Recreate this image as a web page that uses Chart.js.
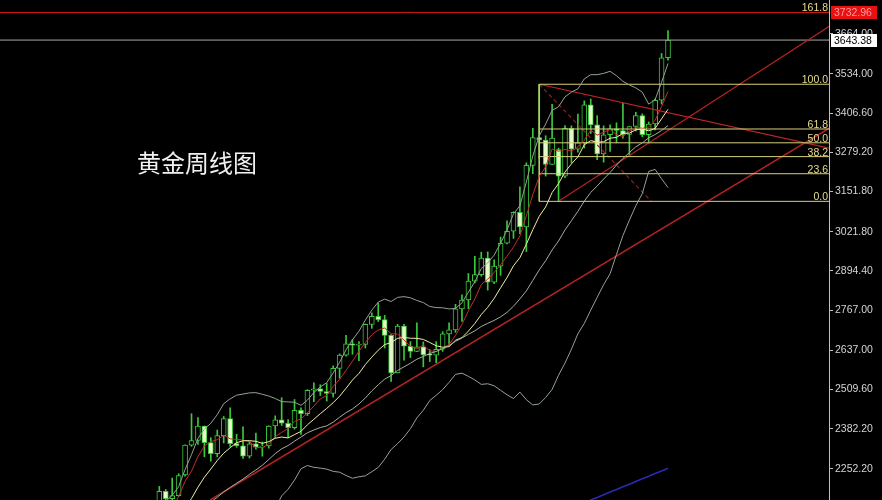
<!DOCTYPE html>
<html>
<head>
<meta charset="utf-8">
<script src="https://cdn.jsdelivr.net/npm/chart.js@4.4.1/dist/chart.umd.min.js"></script>
<style>
    html, body { margin: 0; padding: 0; background: #000; }
    #wrap { width: 882px; height: 500px; }
</style>
</head>
<body>
<div id="wrap"><canvas id="myChart" width="882" height="500"></canvas></div>
<script>
// weekly XAUUSD, week of 2024-03-04 .. 2025-09-08
const weekOpen = [2083, 2179, 2155, 2165, 2232, 2329, 2344, 2391, 2337, 2301,
    2360, 2415, 2334, 2327, 2293, 2333, 2322, 2326, 2391, 2411,
    2400, 2386, 2442, 2431, 2507, 2512, 2503, 2497, 2578, 2621,
    2658, 2653, 2656, 2721, 2747, 2736, 2685, 2563, 2715, 2650,
    2633, 2648, 2622, 2621, 2640, 2690, 2703, 2771, 2800, 2861,
    2882, 2936, 2858, 2910, 2984, 3023, 3084, 3037, 3237, 3327,
    3319, 3240, 3288, 3202, 3357, 3289, 3310, 3433, 3368, 3274,
    3336, 3355, 3350, 3337, 3363, 3398, 3336, 3371, 3448, 3586];
const weekHigh = [2195, 2185, 2222, 2236, 2330, 2431, 2418, 2391, 2353, 2378,
    2422, 2450, 2364, 2388, 2342, 2368, 2339, 2392, 2424, 2483,
    2412, 2477, 2450, 2509, 2531, 2525, 2529, 2586, 2625, 2685,
    2672, 2665, 2722, 2758, 2790, 2750, 2688, 2721, 2721, 2665,
    2726, 2664, 2639, 2665, 2697, 2726, 2786, 2817, 2886, 2942,
    2955, 2956, 2930, 3004, 3057, 3086, 3167, 3245, 3357, 3500,
    3333, 3435, 3293, 3366, 3365, 3403, 3446, 3452, 3398, 3365,
    3368, 3375, 3438, 3363, 3409, 3404, 3378, 3453, 3600, 3674];
const weekLow = [2079, 2146, 2146, 2163, 2228, 2325, 2331, 2291, 2277, 2291,
    2336, 2325, 2322, 2286, 2287, 2316, 2293, 2319, 2353, 2393,
    2353, 2381, 2364, 2425, 2470, 2490, 2472, 2485, 2546, 2618,
    2624, 2603, 2644, 2708, 2730, 2644, 2536, 2563, 2605, 2613,
    2632, 2583, 2600, 2596, 2633, 2656, 2695, 2730, 2772, 2855,
    2877, 2832, 2853, 2880, 2982, 3000, 3015, 2957, 3210, 3260,
    3202, 3240, 3120, 3197, 3245, 3280, 3293, 3340, 3255, 3247,
    3282, 3310, 3325, 3268, 3348, 3330, 3311, 3352, 3436, 3578];
const weekClose = [2179, 2155, 2165, 2230, 2329, 2344, 2391, 2337, 2301, 2360,
    2415, 2334, 2327, 2293, 2333, 2322, 2326, 2391, 2411, 2400,
    2386, 2442, 2431, 2507, 2512, 2503, 2497, 2578, 2621, 2658,
    2653, 2656, 2721, 2747, 2736, 2685, 2563, 2715, 2650, 2633,
    2648, 2622, 2621, 2640, 2690, 2703, 2771, 2800, 2861, 2882,
    2936, 2858, 2910, 2984, 3023, 3084, 3037, 3237, 3327, 3319,
    3240, 3325, 3202, 3357, 3289, 3310, 3433, 3368, 3274, 3336,
    3355, 3350, 3337, 3363, 3398, 3336, 3371, 3448, 3586, 3643.38];
// closes before the first visible week (only feed the averages)
const priorClose = [1833, 1933, 1981, 2006, 1993, 1940, 1981, 2002, 2072, 2004,
    2019, 2053, 2063, 2049, 2049, 2029, 2018, 2039, 2024, 2013, 2035, 2083];
// long blue average, only its end is on screen (weeks 65..79)
const longMaStart = 65;
const longMa = [2134, 2142, 2151, 2159, 2168, 2177, 2185, 2194, 2202, 2211, 2220, 2228, 2237, 2245, 2254];

const priceTicks = [3664.00, 3534.00, 3406.60, 3279.20, 3151.80, 3021.80, 2894.40, 2767.00, 2637.00, 2509.60, 2382.20, 2252.20];

const fibStartWeek = 59;
const fibHigh = 3500;
const fibLow = 3120;
const fibRatios = [0, 23.6, 38.2, 50, 61.8, 100];
const fibLabelRatios = [0, 23.6, 38.2, 50, 61.8, 100, 161.8];

const resistancePrice = 3732.96;
const lastPrice = 3643.38;

// trend lines, in week index / price
const supportLong = [{ x: 7.9, y: 2151 }, { x: 104.1, y: 3358 }];
const supportShort = [{ x: 62, y: 3120 }, { x: 104.1, y: 3689 }];
const downTrend = [{ x: 59, y: 3500 }, { x: 104.1, y: 3292 }];
const fibDiagonal = [{ x: 59, y: 3500 }, { x: 76.4, y: 3120 }];

const X_MIN = -24.74, X_MAX = 104.0;
const Y_MIN = 2150.9, Y_MAX = 3773.4;

const GREEN = '#3cc83c';
const DOWN_FILL = '#e6f8c8';

const allClose = priorClose.concat(weekClose);
const off = priorClose.length;
const sma = (n, i) => {
    let s = 0;
    for (let k = 0; k < n; k++) s += allClose[off + i - k];
    return s / n;
};
const sd = (n, i, m) => {
    let s = 0;
    for (let k = 0; k < n; k++) s += Math.pow(allClose[off + i - k] - m, 2);
    return Math.sqrt(s / n);
};

const idx = weekClose.map((_, i) => i);
const ma5 = idx.map(i => ({ x: i, y: sma(5, i) }));
const ma10 = idx.map(i => ({ x: i, y: sma(10, i) }));
const bbMid = idx.map(i => ({ x: i, y: sma(20, i) }));
const bbUp = idx.map(i => ({ x: i, y: sma(20, i) + 2 * sd(20, i, sma(20, i)) }));
const bbLow = idx.map(i => ({ x: i, y: sma(20, i) - 2 * sd(20, i, sma(20, i)) }));
const blueLine = longMa.map((v, k) => ({ x: longMaStart + k, y: v }));

const wicks = idx.map(i => ({ x: i, y: [weekLow[i], weekHigh[i]] }));
const bodies = idx.map(i => {
    const lo = Math.min(weekOpen[i], weekClose[i]);
    const hi = Math.max(weekOpen[i], weekClose[i]);
    return { x: i, y: [lo, Math.max(hi, lo + 3.5)] };
});
const isUp = idx.map(i => weekClose[i] >= weekOpen[i]);

const line = (data, color, width, extra) => Object.assign({
    type: 'line', data: data, borderColor: color, borderWidth: width,
    pointRadius: 0, fill: false, tension: 0, order: 0
}, extra || {});

const fibSets = fibRatios.map(r => {
    const lvl = fibLow + (fibHigh - fibLow) * r / 100;
    return line([{ x: fibStartWeek, y: lvl }, { x: X_MAX + 1, y: lvl }], '#d8cf7c', 1);
});

const overlay = {
    id: 'overlay',
    beforeDraw(chart) {
        const c = chart.ctx;
        c.save();
        c.fillStyle = '#000';
        c.fillRect(0, 0, chart.width, chart.height);
        c.restore();
    },
    afterDraw(chart) {
        const c = chart.ctx;
        const ys = chart.scales.y;
        const area = chart.chartArea;
        c.save();
        // title
        c.font = '24px "Noto Sans CJK SC"';
        c.fillStyle = '#f0f0f0';
        c.textBaseline = 'middle';
        c.textAlign = 'left';
        c.fillText('黄金周线图', 137, 163);

        // fib labels
        c.font = '10.5px "Liberation Sans"';
        c.fillStyle = '#e6dc8c';
        c.textAlign = 'right';
        c.textBaseline = 'alphabetic';
        fibLabelRatios.forEach(r => {
            const lvl = fibLow + (fibHigh - fibLow) * r / 100;
            c.fillText(r.toFixed(1), area.right - 1, ys.getPixelForValue(lvl) - 1);
        });

        // price boxes
        c.font = '10.5px "Liberation Sans"';
        c.textAlign = 'left';
        c.textBaseline = 'middle';
        const box = (price, bg, fg) => {
            const py = Math.round(ys.getPixelForValue(price));
            c.fillStyle = bg;
            c.fillRect(area.right + 2, py - 6, 46, 13);
            c.fillStyle = fg;
            c.fillText(price.toFixed(2), area.right + 5, py + 1);
        };
        box(resistancePrice, '#e81010', '#ff9a9a');
        box(lastPrice, '#ffffff', '#000000');
        c.restore();
    }
};

const ctx = document.getElementById('myChart').getContext('2d');
new Chart(ctx, {
    type: 'bar',
    data: {
        datasets: [
            {
                type: 'bar', data: wicks, backgroundColor: GREEN, borderWidth: 0,
                barThickness: 1, grouped: false, order: 3
            },
            {
                type: 'bar', data: bodies,
                backgroundColor: isUp.map(u => u ? '#000000' : DOWN_FILL),
                borderColor: GREEN, borderWidth: 1, borderSkipped: false,
                barThickness: 5, grouped: false, order: 2
            },
            line(bbUp, '#94a294', 1),
            line(bbMid, '#a4ae9e', 1),
            line(bbLow, '#94a294', 1),
            line(ma10, '#f2eca2', 1),
            line(ma5, '#c42c2c', 1),
            line(blueLine, '#2a2ab4', 1.5),
            ...fibSets,
            line([{ x: fibStartWeek, y: fibHigh }, { x: fibStartWeek, y: fibLow }], '#b8c868', 1),
            line(supportLong, '#b42222', 1.6),
            line(supportShort, '#b42222', 1.2),
            line(downTrend, '#c02626', 1.2),
            line(fibDiagonal, '#8e2020', 1.2, { borderDash: [4, 3] }),
            line([{ x: X_MIN - 1, y: resistancePrice }, { x: X_MAX + 1, y: resistancePrice }], '#d01818', 1),
            line([{ x: X_MIN - 1, y: lastPrice }, { x: X_MAX + 1, y: lastPrice }], '#a8a8a8', 1)
        ]
    },
    options: {
        responsive: false,
        animation: false,
        devicePixelRatio: 1,
        layout: { padding: 0 },
        plugins: { legend: { display: false }, tooltip: { enabled: false } },
        scales: {
            x: {
                type: 'linear', min: X_MIN, max: X_MAX, offset: false, display: false
            },
            y: {
                type: 'linear', position: 'right', min: Y_MIN, max: Y_MAX,
                afterFit: s => { s.width = 53; s.paddingTop = 0; s.paddingBottom = 0; },
                afterBuildTicks: s => { s.ticks = priceTicks.map(v => ({ value: v })); },
                ticks: {
                    color: '#d4d4d4', padding: 2, autoSkip: false,
                    font: { family: 'Liberation Sans', size: 10.5 },
                    callback: v => v.toFixed(2)
                },
                grid: { drawOnChartArea: false, color: '#c0c0c0', tickLength: 4 },
                border: { display: true, color: '#c0c0c0', width: 1 }
            }
        }
    },
    plugins: [overlay]
});
</script>
</body>
</html>
